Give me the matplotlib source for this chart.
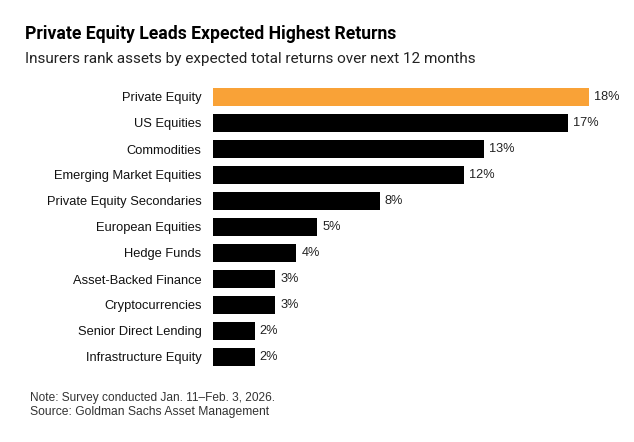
import matplotlib
matplotlib.use("Agg")
import matplotlib.pyplot as plt

categories = [
    "Private Equity",
    "US Equities",
    "Commodities",
    "Emerging Market Equities",
    "Private Equity Secondaries",
    "European Equities",
    "Hedge Funds",
    "Asset-Backed Finance",
    "Cryptocurrencies",
    "Senior Direct Lending",
    "Infrastructure Equity",
]
returns_pct = [18, 17, 13, 12, 8, 5, 4, 3, 3, 2, 2]
highlight = "Private Equity"

plt.rcParams["font.family"] = ["Liberation Sans", "DejaVu Sans"]

W, H = 634, 442
fig = plt.figure(figsize=(W / 100, H / 100), dpi=100)
fig.patch.set_facecolor("white")

# axes placed in pixel terms of the reference
left, right = 212.7, 620.3
top, bottom = 84, 370
ax = fig.add_axes([left / W, 1 - bottom / H, (right - left) / W, (bottom - top) / H])

ypos = list(range(len(categories)))
colors = ["#F9A237" if c == highlight else "#000000" for c in categories]
ax.barh(ypos, returns_pct, height=0.69, color=colors, edgecolor="none")
ax.set_xlim(0, 19.5)
ax.set_ylim(len(categories) - 0.5, -0.5)

for y, v in zip(ypos, returns_pct):
    ax.annotate(f"{v}%", (v, y), xytext=(3.6, 0), textcoords="offset points",
                va="center", ha="left", fontsize=9.2, color="#222222")

ax.set_yticks(ypos)
ax.set_yticklabels(categories, fontsize=9.3, color="#111111")
ax.tick_params(axis="y", length=0, pad=8)
ax.set_xticks([])
for s in ax.spines.values():
    s.set_visible(False)

fig.text(25 / W, 1 - 39 / H, "Private Equity Leads Expected Highest Returns",
         fontsize=12.7, fontweight="bold", color="#000000", va="baseline",
         family=["Roboto", "DejaVu Sans"])
fig.text(25 / W, 1 - 63 / H, "Insurers rank assets by expected total returns over next 12 months",
         fontsize=11.0, color="#222222", va="baseline",
         family=["Roboto", "DejaVu Sans"])
fig.text(30 / W, 1 - 400.5 / H, "Note: Survey conducted Jan. 11\u2013Feb. 3, 2026.",
         fontsize=8.6, color="#333333", va="baseline")
fig.text(30 / W, 1 - 415 / H, "Source: Goldman Sachs Asset Management",
         fontsize=8.7, color="#333333", va="baseline")

fig.savefig("out.png", dpi=100, facecolor="white")
